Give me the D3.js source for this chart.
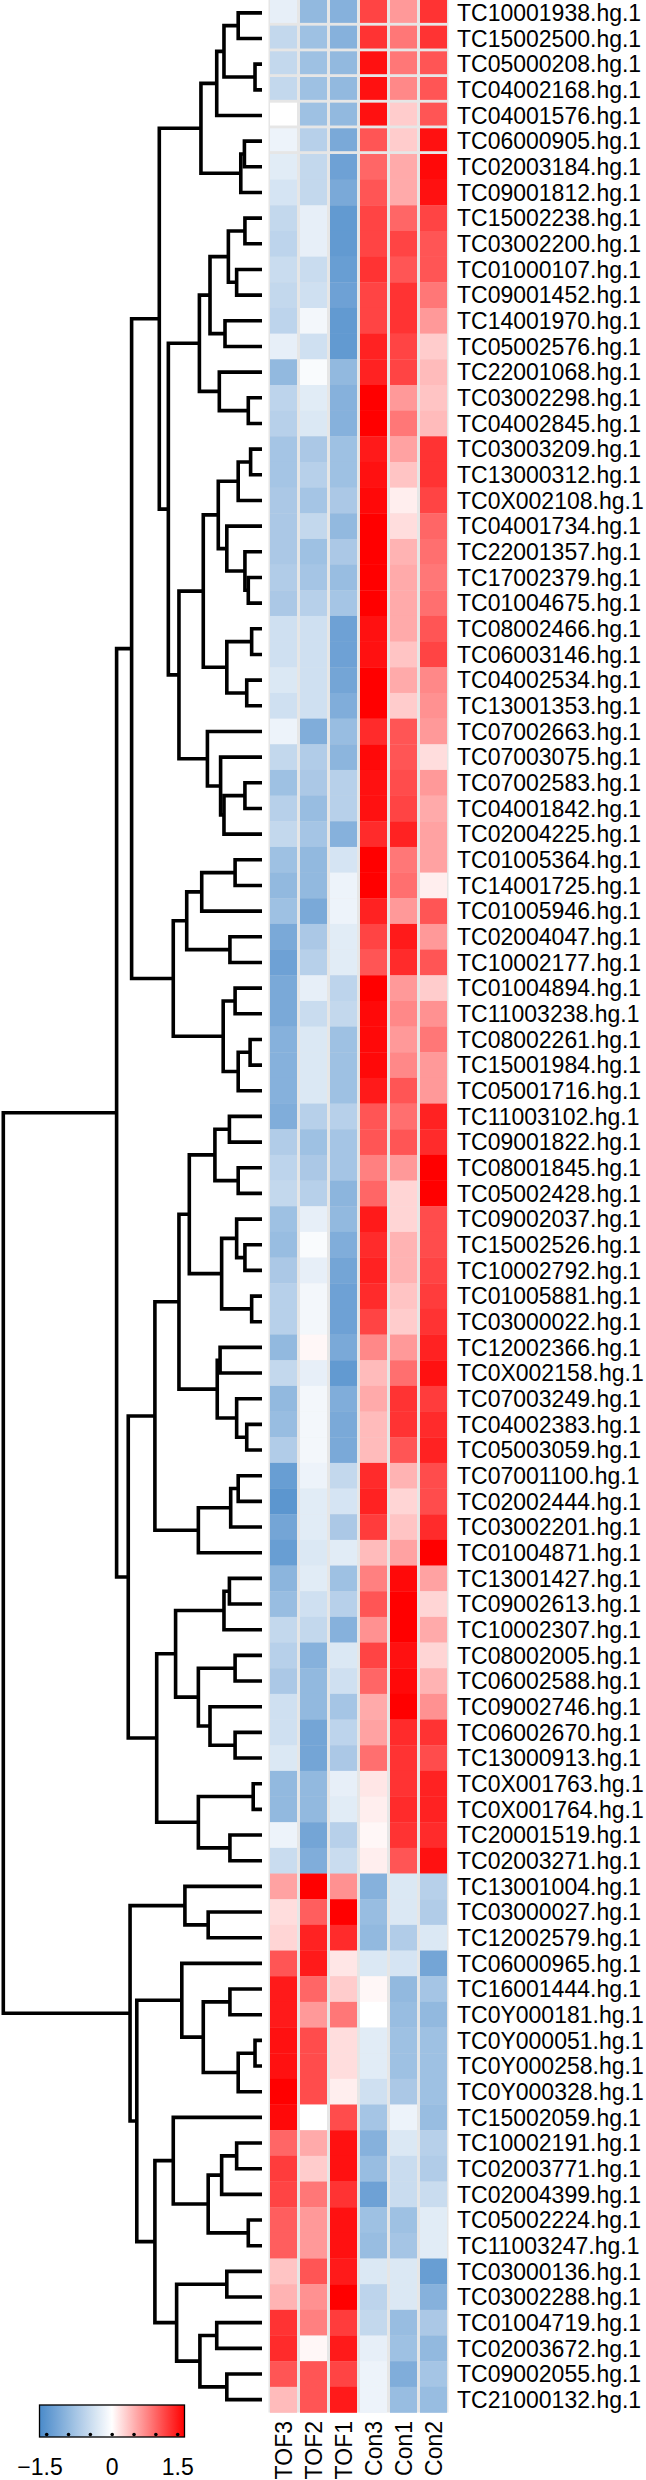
<!DOCTYPE html>
<html><head><meta charset="utf-8">
<script src="https://cdn.jsdelivr.net/npm/d3@7"></script>
<style>body{margin:0;background:#fff}svg{display:block}</style>
</head><body>
<svg id="chart" width="646" height="2480"></svg>
<script>
const rowLabels = ["TC10001938.hg.1","TC15002500.hg.1","TC05000208.hg.1","TC04002168.hg.1","TC04001576.hg.1","TC06000905.hg.1","TC02003184.hg.1","TC09001812.hg.1","TC15002238.hg.1","TC03002200.hg.1","TC01000107.hg.1","TC09001452.hg.1","TC14001970.hg.1","TC05002576.hg.1","TC22001068.hg.1","TC03002298.hg.1","TC04002845.hg.1","TC03003209.hg.1","TC13000312.hg.1","TC0X002108.hg.1","TC04001734.hg.1","TC22001357.hg.1","TC17002379.hg.1","TC01004675.hg.1","TC08002466.hg.1","TC06003146.hg.1","TC04002534.hg.1","TC13001353.hg.1","TC07002663.hg.1","TC07003075.hg.1","TC07002583.hg.1","TC04001842.hg.1","TC02004225.hg.1","TC01005364.hg.1","TC14001725.hg.1","TC01005946.hg.1","TC02004047.hg.1","TC10002177.hg.1","TC01004894.hg.1","TC11003238.hg.1","TC08002261.hg.1","TC15001984.hg.1","TC05001716.hg.1","TC11003102.hg.1","TC09001822.hg.1","TC08001845.hg.1","TC05002428.hg.1","TC09002037.hg.1","TC15002526.hg.1","TC10002792.hg.1","TC01005881.hg.1","TC03000022.hg.1","TC12002366.hg.1","TC0X002158.hg.1","TC07003249.hg.1","TC04002383.hg.1","TC05003059.hg.1","TC07001100.hg.1","TC02002444.hg.1","TC03002201.hg.1","TC01004871.hg.1","TC13001427.hg.1","TC09002613.hg.1","TC10002307.hg.1","TC08002005.hg.1","TC06002588.hg.1","TC09002746.hg.1","TC06002670.hg.1","TC13000913.hg.1","TC0X001763.hg.1","TC0X001764.hg.1","TC20001519.hg.1","TC02003271.hg.1","TC13001004.hg.1","TC03000027.hg.1","TC12002579.hg.1","TC06000965.hg.1","TC16001444.hg.1","TC0Y000181.hg.1","TC0Y000051.hg.1","TC0Y000258.hg.1","TC0Y000328.hg.1","TC15002059.hg.1","TC10002191.hg.1","TC02003771.hg.1","TC02004399.hg.1","TC05002224.hg.1","TC11003247.hg.1","TC03000136.hg.1","TC03002288.hg.1","TC01004719.hg.1","TC02003672.hg.1","TC09002055.hg.1","TC21000132.hg.1"];

const colLabels = ["TOF3","TOF2","TOF1","Con3","Con1","Con2"];

const TOF3 = [-0.2,-0.5,-0.5,-0.5,0.0,-0.15,-0.25,-0.35,-0.5,-0.55,-0.45,-0.5,-0.55,-0.2,-0.9,-0.55,
 -0.6,-0.75,-0.75,-0.7,-0.7,-0.7,-0.65,-0.7,-0.4,-0.4,-0.3,-0.4,-0.15,-0.5,-0.8,
 -0.6,-0.5,-0.8,-0.9,-0.8,-1.1,-1.2,-1.1,-1.1,-1.0,-1.0,-1.0,-1.05,-0.65,-0.55,-0.5,
 -0.8,-0.85,-0.7,-0.6,-0.6,-0.9,-0.5,-0.9,-0.85,-0.65,-1.25,-1.35,-1.15,-1.25,-0.95,
 -0.85,-0.5,-0.6,-0.7,-0.4,-0.4,-0.3,-0.9,-0.9,-0.15,-0.45,0.55,0.2,0.25,1.0,1.35,
 1.35,1.4,1.4,1.5,1.45,0.9,1.15,1.1,0.95,0.95,0.35,0.45,1.2,1.25,1.0,0.4];
const TOF2 = [-0.9,-0.8,-0.8,-0.8,-0.8,-0.6,-0.5,-0.5,-0.2,-0.2,-0.45,-0.4,-0.1,-0.4,-0.05,-0.25,
 -0.3,-0.7,-0.6,-0.75,-0.5,-0.8,-0.75,-0.6,-0.4,-0.4,-0.4,-0.4,-1.05,-0.65,-0.7,
 -0.85,-0.75,-0.9,-0.9,-1.1,-0.7,-0.6,-0.2,-0.45,-0.3,-0.3,-0.3,-0.6,-0.8,-0.7,-0.6,
 -0.2,-0.05,-0.2,-0.1,-0.1,0.05,-0.2,-0.1,-0.1,-0.1,-0.15,-0.25,-0.25,-0.3,-0.25,
 -0.4,-0.5,-1.0,-0.9,-0.9,-1.15,-1.15,-0.9,-0.9,-1.15,-1.05,1.5,0.95,1.3,1.35,0.9,
 0.6,1.05,1.05,1.05,0.0,0.5,0.3,0.8,0.6,0.6,1.0,0.65,0.75,0.05,1.0,1.0];
const TOF1 = [-1.0,-1.0,-0.9,-0.9,-0.9,-1.1,-1.2,-1.1,-1.3,-1.3,-1.25,-1.2,-1.3,-1.3,-0.9,-1.0,
 -1.0,-0.8,-0.8,-0.7,-0.9,-0.7,-0.85,-0.75,-1.2,-1.2,-1.15,-1.05,-0.85,-0.95,-0.6,
 -0.6,-1.0,-0.35,-0.15,-0.15,-0.25,-0.25,-0.55,-0.5,-0.8,-0.8,-0.8,-0.6,-0.75,-0.75,-0.95,
 -0.9,-1.05,-1.15,-1.2,-1.2,-1.1,-1.3,-1.05,-1.1,-1.1,-0.5,-0.35,-0.7,-0.25,-0.8,
 -0.6,-1.0,-0.3,-0.4,-0.75,-0.55,-0.7,-0.2,-0.25,-0.6,-0.45,0.65,1.5,1.25,0.15,0.3,
 0.8,0.2,0.2,0.1,1.05,1.4,1.4,1.2,1.4,1.4,1.35,1.5,1.15,1.35,1.1,1.35];
const Con3 = [1.1,1.2,1.4,1.4,1.4,1.0,0.9,1.0,1.1,1.1,1.2,1.1,1.1,1.3,1.3,1.5,
 1.5,1.35,1.4,1.45,1.5,1.5,1.5,1.5,1.4,1.4,1.5,1.5,1.25,1.45,1.4,
 1.4,1.25,1.5,1.5,1.3,1.1,1.0,1.5,1.45,1.45,1.45,1.35,1.0,1.0,0.75,0.9,
 1.35,1.25,1.3,1.25,1.1,0.7,0.4,0.5,0.4,0.4,1.25,1.3,1.15,0.4,0.75,
 1.0,0.65,1.1,0.9,0.5,0.55,0.85,0.15,0.1,0.05,0.1,-1.0,-0.85,-0.9,-0.3,0.05,
 0.0,-0.25,-0.25,-0.4,-0.75,-1.0,-0.85,-1.2,-0.8,-0.85,-0.3,-0.55,-0.5,-0.2,-0.15,-0.15];
const Con1 = [0.6,0.8,0.8,0.7,0.3,0.3,0.5,0.5,0.9,1.1,1.0,1.2,1.2,1.1,1.1,0.6,
 0.8,0.55,0.35,0.1,0.2,0.45,0.5,0.5,0.5,0.35,0.5,0.3,1.0,1.0,1.05,
 1.1,1.3,0.8,0.85,0.6,1.35,1.25,0.6,0.7,0.6,0.7,1.0,0.85,1.0,0.6,0.25,
 0.25,0.45,0.45,0.35,0.3,0.6,0.85,1.2,1.2,1.0,0.45,0.25,0.35,0.55,1.45,
 1.5,1.5,1.4,1.45,1.5,1.25,1.2,1.2,1.25,1.2,1.0,-0.3,-0.3,-0.65,-0.35,-0.9,
 -0.85,-0.8,-0.8,-0.7,-0.15,-0.3,-0.45,-0.45,-0.8,-0.75,-0.3,-0.3,-0.85,-0.8,-1.05,-0.85];
const Con2 = [1.2,1.2,1.0,1.0,1.0,1.4,1.45,1.4,1.1,1.0,1.0,0.8,0.6,0.3,0.4,0.35,
 0.4,1.2,1.2,1.1,0.9,0.85,0.8,0.85,1.0,1.1,0.7,0.65,0.6,0.2,0.6,
 0.5,0.55,0.55,0.1,1.0,0.6,1.0,0.3,0.65,0.8,0.6,0.6,1.3,1.25,1.5,1.5,
 1.05,1.05,1.1,1.15,1.2,1.3,1.4,1.15,1.25,1.3,1.05,1.05,1.25,1.5,0.55,
 0.25,0.5,0.25,0.45,0.65,1.2,1.05,1.3,1.3,1.25,1.4,-0.6,-0.65,-0.3,-1.15,-0.75,
 -0.9,-0.8,-0.8,-0.8,-0.85,-0.6,-0.65,-0.45,-0.25,-0.25,-1.25,-1.0,-0.7,-0.9,-0.75,-0.85];
const series = [TOF3, TOF2, TOF1, Con3, Con1, Con2];

// Row dendrogram: [height, childA, childB]; numbers are row indices (leaves)
const rowTree = [10,
  [5.62,
    [5.04,
      [3.97,
        [2.36, [1.75, [1.47, [0.92, 0, 1], [0.27, 2, 3]], 4], [0.82, [0.68, 5, 6], 7]],
        [3.62,
          [2.42, [2.01, [1.30, [0.66, 8, 9], [0.98, 10, 11]], [1.43, 12, 13]], [1.65, 14, [0.53, 15, 16]]],
          [3.21,
            [2.27, [1.69, [0.92, [0.44, 17, 18], 19], [1.36, 20, [0.66, 21, [0.53, 22, 23]]]], [1.36, [0.40, 24, 25], [0.59, 26, 27]]],
            [2.11, 28, [1.60, 29, [1.47, [0.66, 30, 31], 32]]]]]],
      [3.43, [2.91, [2.33, [1.04, 33, 34], 35], [1.24, 36, 37]], [1.50, [1.04, 38, 39], [0.92, [0.46, 40, 41], 42]]]],
    [5.17,
      [4.14,
        [3.21, [2.81, [1.82, [1.26, 43, 44], [0.92, 45, 46]], [1.56, [0.98, 47, [0.66, 48, 49]], [0.40, 50, 51]]],
               [1.73, [1.62, 52, 53], [0.98, 54, [0.59, 55, 56]]]],
        [2.46, [1.21, [0.92, 57, 58], 59], 60]],
      [4.07,
        [3.34, [1.47, [1.26, 61, 62], 63], [2.46, [1.04, 64, 65], [2.01, 66, [1.04, 67, 68]]]],
        [2.46, [0.34, 69, 70], [1.24, 71, 72]]]]],
  [5.10,
    [2.98, 73, [2.08, 74, 75]],
    [4.84,
      [3.10, 76, [2.27, [1.24, 77, 78], [0.92, [0.27, 79, 80], 81]]],
      [4.14,
        [3.43, 82, [2.08, [1.56, [0.98, 83, 84], 85], [0.53, 86, 87]]],
        [3.30, [1.36, 88, 89], [2.40, [1.75, 90, 91], [1.36, 92, 93]]]]]]];

const legendTicks = [-1.5, -1, -0.5, 0, 0.5, 1, 1.5];
const legendLabels = [-1.5, 0, 1.5];

const svg = d3.select("#chart");
const FONT = "'Liberation Sans', Arial, Helvetica, sans-serif";

const color = d3.scaleLinear().domain([-1.5, 0, 1.5])
  .range(["#4A8ACA", "#ffffff", "#ff0000"]).clamp(true);

const y = d3.scaleBand().domain(d3.range(rowLabels.length)).range([0, 2412.5]).padding(0);
const x = d3.scaleBand().domain(colLabels).range([268.5, 448.5]).paddingInner(0.1).paddingOuter(0.05);

// heatmap background (gaps)
svg.append("rect").attr("x", 268.5).attr("y", 0).attr("width", 180).attr("height", y.range()[1])
  .attr("fill", "#e6e6e6");

const g = svg.append("g");
colLabels.forEach((c, ci) => {
  g.selectAll(null).data(series[ci]).enter().append("rect")
    .attr("x", x(c)).attr("y", (d, i) => y(i))
    .attr("width", x.bandwidth())
    .attr("height", (d, i) => i < 6 ? y.bandwidth() - 2.8 : y.bandwidth() + 0.3)
    .attr("fill", d => color(d));
});

// row labels
svg.append("g").selectAll("text").data(rowLabels).enter().append("text")
  .attr("x", 457).attr("y", (d, i) => y(i) + y.bandwidth() / 2 + 8.2)
  .attr("font-family", FONT).attr("font-size", 23).attr("fill", "#000")
  .text(d => d);

// column labels
svg.append("g").selectAll("text").data(colLabels).enter().append("text")
  .attr("transform", d => `translate(${x(d) + x.bandwidth() / 2 + 8},2421) rotate(-90)`)
  .attr("text-anchor", "end")
  .attr("font-family", FONT).attr("font-size", 23).attr("fill", "#000")
  .text(d => d);

// dendrogram
const root = d3.hierarchy(rowTree, d => Array.isArray(d) ? d.slice(1) : null);
const hx = d3.scaleLinear().domain([0, 10]).range([262, 3.3]);
root.eachAfter(n => {
  if (!n.children) {
    n.py = y(n.data) + y.bandwidth() / 2;
    n.px = hx(0);
  } else {
    n.py = (n.children[0].py + n.children[1].py) / 2;
    n.px = hx(n.data[0]);
  }
});
const links = root.descendants().filter(n => n.children);
svg.append("g").selectAll("path").data(links).enter().append("path")
  .attr("d", n => {
    const [a, b] = n.children;
    return `M${a.px},${a.py}H${n.px}V${b.py}H${b.px}`;
  })
  .attr("fill", "none").attr("stroke", "#000").attr("stroke-width", 3.6)
  .attr("stroke-linejoin", "miter").attr("stroke-linecap", "butt");

// legend
const lx = d3.scaleLinear().domain([-1.5, 1.5]).range([46.7, 177.7]);
const defs = svg.append("defs");
const grad = defs.append("linearGradient").attr("id", "lg").attr("x1", "0%").attr("x2", "100%");
d3.range(0, 1.0001, 0.05).forEach(t => {
  grad.append("stop").attr("offset", (t * 100) + "%").attr("stop-color", color(-1.5 + 3 * t));
});
const lg = svg.append("g");
lg.append("rect").attr("x", 39.5).attr("y", 2405).attr("width", 145).attr("height", 32)
  .attr("fill", "url(#lg)").attr("stroke", "#000").attr("stroke-width", 1.3);
lg.selectAll("circle").data(legendTicks).enter().append("circle")
  .attr("cx", d => lx(d)).attr("cy", 2434.5).attr("r", 1.8).attr("fill", "#000");
// labels: the number part is centred on its tick, a minus sign hangs to the left
lg.selectAll("text").data(legendLabels).enter().append("text")
  .attr("y", 2475).attr("text-anchor", "end")
  .attr("font-family", FONT).attr("font-size", 23).attr("fill", "#000")
  .text(d => d < 0 ? "\u2212" + Math.abs(d) : String(d))
  .each(function (d) {
    const probe = lg.append("text").attr("font-family", FONT).attr("font-size", 23)
      .text(String(Math.abs(d)));
    const w = probe.node().getComputedTextLength();
    probe.remove();
    d3.select(this).attr("x", lx(d) + w / 2);
  });
</script>
</body></html>
